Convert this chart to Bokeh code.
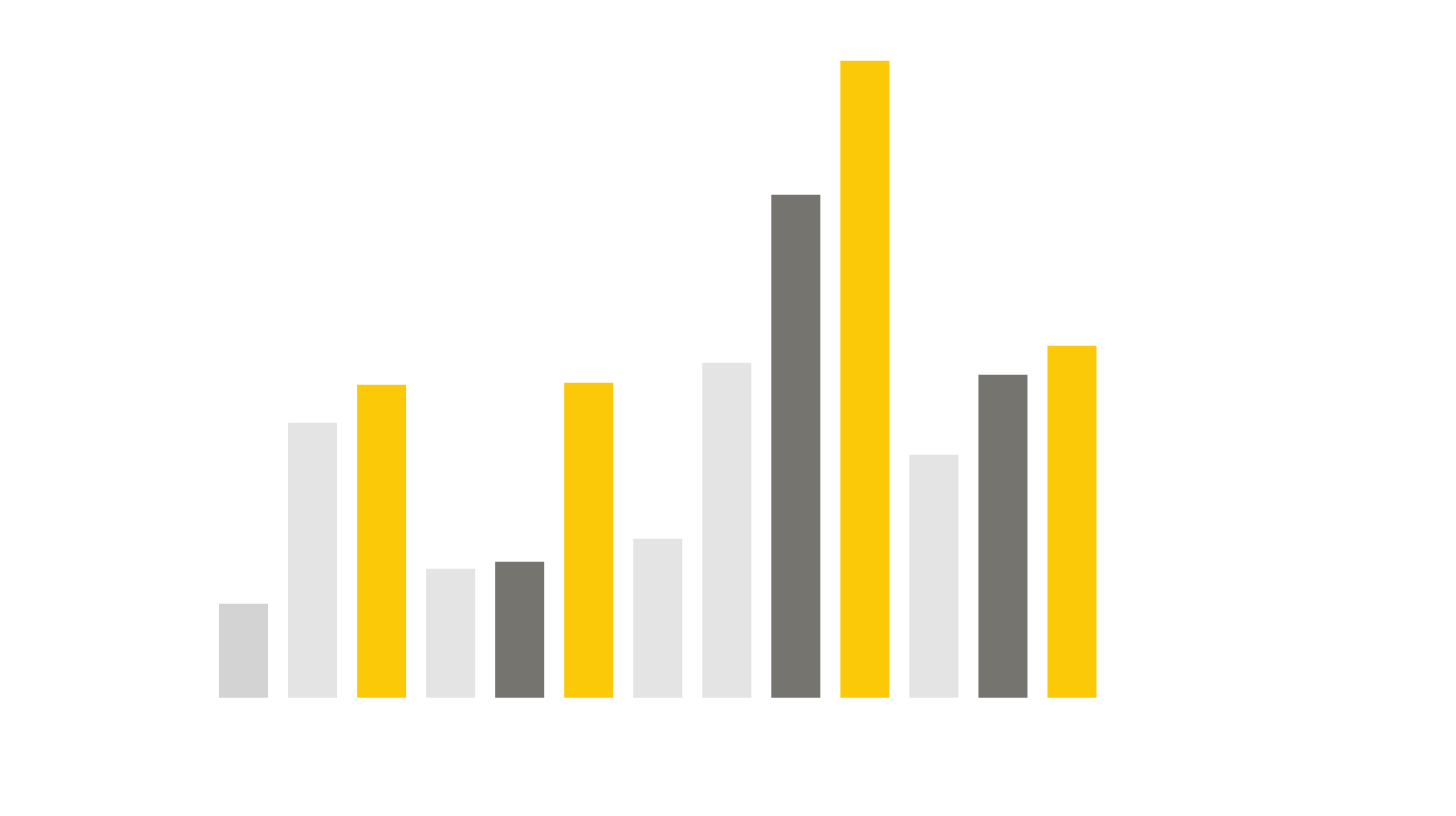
from bokeh.plotting import figure
from bokeh.models import Range1d, ColumnDataSource
from bokeh.embed import file_html
from bokeh.resources import INLINE

positions = [0, 1, 2, 3, 4, 5, 6, 7, 8, 9, 10, 11, 12]
values = [94, 275, 313, 129, 136, 315, 159, 335, 503, 637, 243, 323, 352]
colors = ["#d3d3d3", "#e4e4e4", "#fcc908", "#e4e4e4", "#75746e", "#fcc908",
          "#e4e4e4", "#e4e4e4", "#75746e", "#fcc908", "#e4e4e4", "#75746e", "#fcc908"]

src = ColumnDataSource(dict(x=positions, top=values, color=colors))

p = figure(width=1440, height=800, output_backend="svg", toolbar_location=None,
           x_range=Range1d(-3.52, 17.338), y_range=Range1d(-102.7, 697.3),
           min_border=0)
p.vbar(x="x", top="top", bottom=0, width=0.71, fill_color="color", line_color=None, source=src)
p.axis.visible = False
p.grid.visible = False
p.outline_line_color = None
p.background_fill_color = "white"
p.border_fill_color = "white"

open("out.html", "w").write(file_html(p, INLINE))
